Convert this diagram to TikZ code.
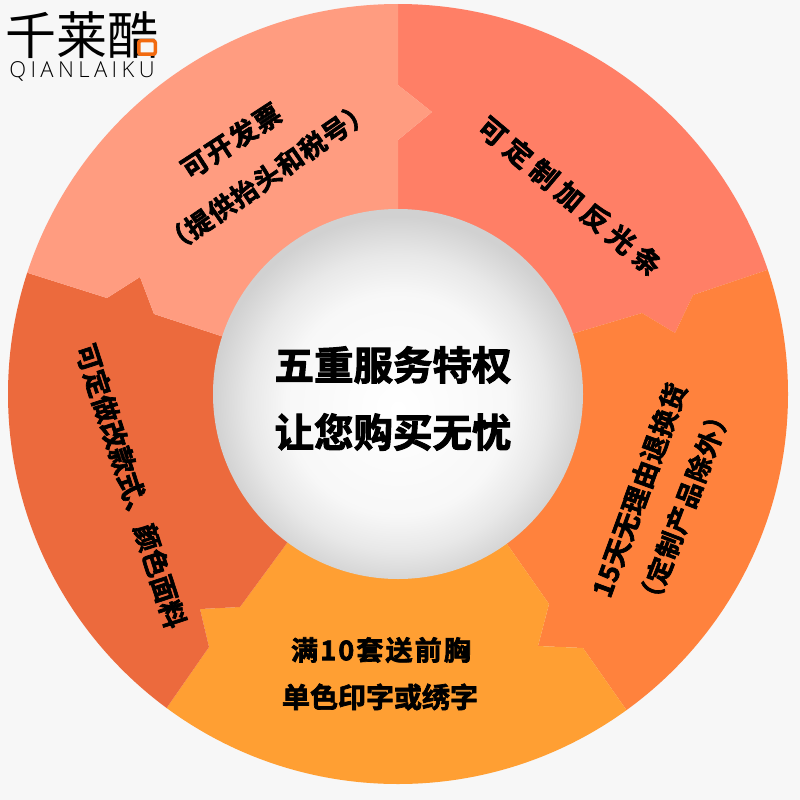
\documentclass[tikz,border=0pt]{standalone}
\usepackage{fontspec}
\newfontfamily\cjk[BoldFont={Noto Sans CJK SC Bold},BoldFeatures={FakeBold=2.5}]{Noto Sans CJK SC}
\newfontfamily\latinlogo{Open Sans Light}
\definecolor{pagebg}{HTML}{F7F7F7}
\definecolor{segpink}{HTML}{FF9C80}
\definecolor{segred}{HTML}{FF7F66}
\definecolor{segorange}{HTML}{FF823D}
\definecolor{segamber}{HTML}{FF9F33}
\definecolor{segdark}{HTML}{EC6A3D}
\definecolor{logoorange}{HTML}{F26A0F}
\pgfdeclareradialshading{discshade}{\pgfpoint{0bp}{-2bp}}{color(0bp)=(white);color(15bp)=(white!97!black);color(20bp)=(white!91!black);color(25bp)=(white!82!black);color(50bp)=(white!82!black)}
\tikzset{
  label14/.style={font=\cjk\bfseries\fontsize{#1}{#1}\selectfont,text=black,inner sep=0pt},
  seg/.style={draw=none,fill=#1},
}
\begin{document}
\begin{tikzpicture}[x=1pt,y=-1pt]
\path[use as bounding box,fill=pagebg] (0,0) rectangle (800,800);
\coordinate (C) at (398,394);
\begin{scope}
\clip (C) circle (390);
\fill[seg=segred] (C)--(398,209)--(398,140)--(432,112)--(398,85)--(398,-10)--(830,-10)--(830,249)--(767,270)--(693,295)--(675,333)--(642,313)--(575,333)--cycle;
\fill[seg=segorange] (C)--(575,333)--(642,313)--(675,333)--(693,295)--(767,270)--(830,249)--(830,815)--(700,815)--(625,708)--(583,648)--(538,646)--(549,604)--(507,544)--cycle;
\fill[seg=segamber] (C)--(507,544)--(549,604)--(538,646)--(583,648)--(625,708)--(700,815)--(100,815)--(168,706)--(209,647)--(200,609)--(240,607)--(287,543)--cycle;
\fill[seg=segdark] (C)--(287,543)--(240,607)--(200,609)--(209,647)--(168,706)--(100,815)--(-20,815)--(-20,258)--(28,273)--(107,298)--(140,277)--(154,314)--(221,336)--cycle;
\fill[seg=segpink] (C)--(221,336)--(154,314)--(140,277)--(107,298)--(28,273)--(-20,258)--(-20,-10)--(398,-10)--(398,85)--(432,112)--(398,140)--(398,209)--cycle;
\end{scope}
\path[shading=discshade] (C) circle (185);
% centre
\node[label14=39.5] (c1) at (393,365) {五重服务特权};
\node[label14=39.5] (c2) at (393,432) {让您购买无忧};
% top left
\node[label14=27,rotate=33] (a1) at (231,141) {\addfontfeature{LetterSpace=6}可开发票};
\node[label14=26.5,rotate=34.5] (a2) at (267,177) {\addfontfeature{LetterSpace=4}（提供抬头和税号）};
% top right
\node[label14=27.5,rotate=-40] (b1) at (570,196) {\addfontfeature{LetterSpace=22}可定制加反光条};
% right
\node[label14=27,rotate=70] (d1) at (639,490) {\addfontfeature{LetterSpace=2}15天无理由退换货};
\node[label14=26,rotate=69] (d2) at (684,507) {\addfontfeature{LetterSpace=5}（定制产品除外）};
% bottom
\node[label14=27] (e1) at (381,650) {\addfontfeature{LetterSpace=8}满10套送前胸};
\node[label14=28] (e2) at (380,697) {单色印字或绣字};
% left
\node[label14=27,rotate=-72] (f1) at (131,486) {可定做改款式、颜色面料};
% logo
\node[font=\cjk\fontsize{51}{51}\selectfont,inner sep=0pt,anchor=west] (logo) at (5,35) {千莱酷};
\node[draw=logoorange,line width=3.5pt,fill=pagebg,rounded corners=2pt,minimum width=16.5pt,minimum height=13.5pt,inner sep=0pt] (logobox) at (147,47.5) {};
\node[font=\latinlogo\fontsize{22}{22}\selectfont,inner sep=0pt,anchor=center] (logotxt) at (82,71) {\addfontfeature{LetterSpace=20}QIANLAIKU};
\end{tikzpicture}
\end{document}
